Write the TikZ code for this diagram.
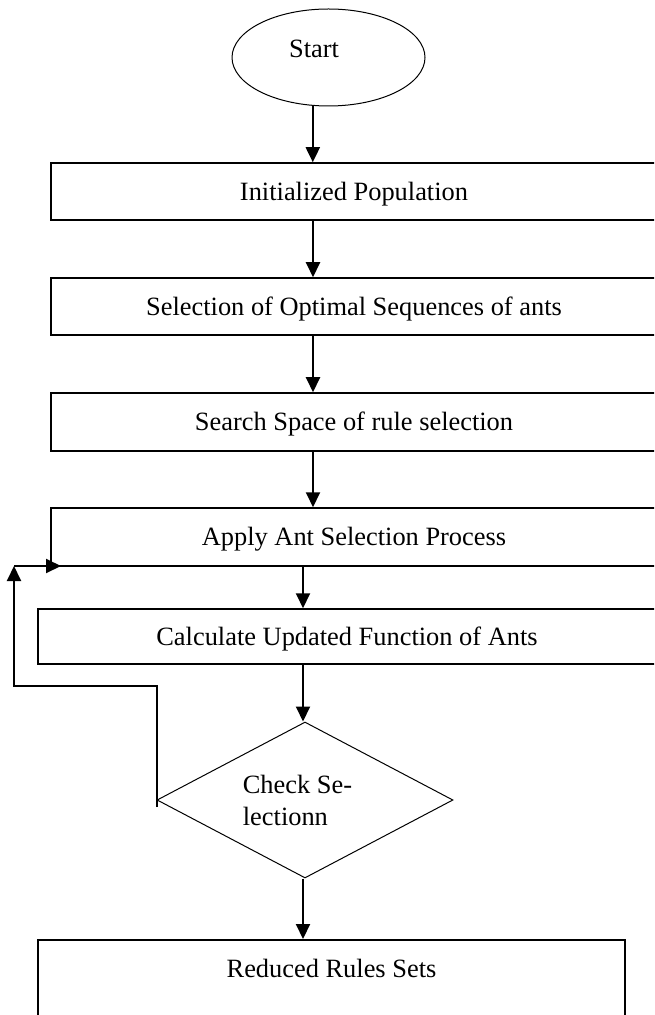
\documentclass[tikz,border=0pt]{standalone}
\usepackage{fontspec}
\setmainfont{Liberation Serif}
\usetikzlibrary{shapes.geometric,arrows.meta}
\begin{document}
\begin{tikzpicture}[x=0.5pt,y=-0.5pt,
 every node/.style={font=\fontsize{13.2}{16}\selectfont},
 procbox/.style={draw, line width=0.75pt, rectangle, inner sep=0pt, text height=8.8pt, text depth=0pt, minimum width=303pt, minimum height=28.5pt},
 startnode/.style={draw, ellipse, line width=0.5pt, inner sep=0pt, minimum width=96.5pt, minimum height=48.5pt, text height=6pt, text depth=6pt},
 decision/.style={draw, diamond, aspect=1.9, line width=0.5pt, inner sep=0pt, minimum width=148pt, minimum height=78pt, align=left},
 flow/.style={line width=1pt, -{Triangle[length=7.5pt,width=7pt]}},
]
\useasboundingbox (0,0) rectangle (654,1015);
\fill[white] (0,0) rectangle (654,1015);
\clip (0,0) rectangle (654,1015);

\node[startnode] (e) at (328.5,57.5) {Start\hspace*{14.5pt}};
\node[procbox] (b1) at (354,191.5) {Initialized Population};
\node[procbox] (b2) at (354,306.5) {Selection of Optimal Sequences of ants};
\node[procbox, minimum height=29pt] (b3) at (354,422) {Search Space of rule selection};
\node[procbox, minimum height=29pt] (b4) at (354,537) {Apply Ant Selection Process};
\node[procbox, minimum width=309pt, minimum height=27.5pt] (b5) at (347,636.5) {Calculate Updated Function of Ants};
\node[decision] (d) at (305,800) {Check Se-\hspace*{7.5pt}\\lectionn};
\node[procbox, anchor=north, minimum width=293.5pt, minimum height=0pt, text height=19pt, text depth=29pt] (b6) at (331.5,939) {Reduced Rules Sets};

\coordinate (colA) at (313,0);
\coordinate (colB) at (303,0);
\coordinate (lp1) at (14,686);
\coordinate (lp2) at (14,566);
\coordinate (lp3) at (61,566);

\draw[flow] (e.252) -- (e.252 |- b1.north);
\draw[flow] (colA |- b1.south) -- (colA |- b2.north);
\draw[flow] (colA |- b2.south) -- (colA |- b3.north);
\draw[flow] (colA |- b3.south) -- (colA |- b4.north);
\draw[flow] (colB |- b4.south) -- (colB |- b5.north);
\draw[flow] (colB |- b5.south) -- (colB |- d.north);
\draw[flow] (colB |- d.south) -- (colB |- b6.north);
\draw[flow] ([yshift=-3.5pt]d.west) |- (lp1) -- (lp2);
\draw[flow] (lp2) -- (lp3);
\end{tikzpicture}
\end{document}
